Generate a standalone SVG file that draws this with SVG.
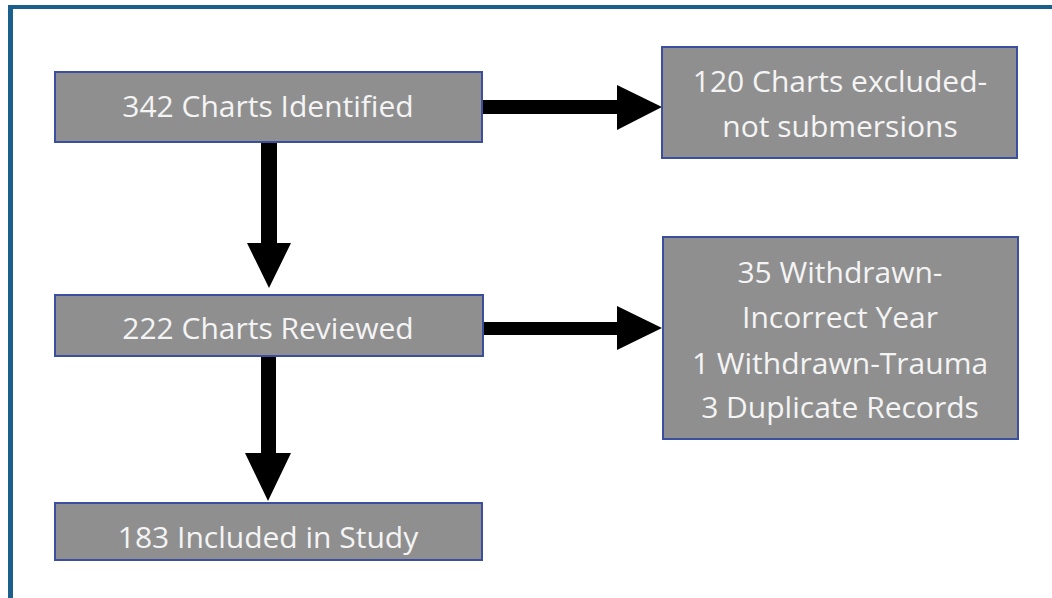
<svg xmlns="http://www.w3.org/2000/svg" width="1052" height="598" viewBox="0 0 1052 598">
<style>
.box{fill:#8f8f8f;stroke:#3b4f9e;stroke-width:2}
.t{font-family:"Open Sans","Noto Sans",sans-serif;font-size:30px;fill:#f4f4f4;text-anchor:middle}
.arr{fill:#000}
</style>
<rect x="0" y="0" width="1052" height="598" fill="#ffffff"/>
<g id="frame">
<rect x="8" y="5" width="1044" height="4" fill="#1b5f8c"/>
<rect x="8" y="5" width="5" height="593" fill="#1b5f8c"/>
</g>
<g id="connectors">
<path class="arr" d="M482 100 H617 V85 L662 107 L617 130 V114 H482 Z"/>
<path class="arr" d="M483 322 H617 V306 L662 328 L617 350 V335 H483 Z"/>
<path class="arr" d="M261 143 V243 H247 L269 288 L291 243 H277 V143 Z"/>
<path class="arr" d="M261 357 V453 H245 L268 501 L291 453 H276 V357 Z"/>
</g>
<g id="n1">
<rect class="box" x="55" y="72" width="427" height="70"/>
<text class="t" x="268" y="117">342 Charts Identified</text>
</g>
<g id="n2">
<rect class="box" x="662" y="47" width="355" height="111"/>
<text class="t" x="840" y="92">120 Charts excluded-</text>
<text class="t" x="840" y="137">not submersions</text>
</g>
<g id="n3">
<rect class="box" x="55" y="295" width="428" height="61"/>
<text class="t" x="268" y="339">222 Charts Reviewed</text>
</g>
<g id="n4">
<rect class="box" x="663" y="237" width="355" height="202"/>
<text class="t" x="840" y="283">35 Withdrawn-</text>
<text class="t" x="840" y="328">Incorrect Year</text>
<text class="t" x="840" y="374">1 Withdrawn-Trauma</text>
<text class="t" x="840" y="418">3 Duplicate Records</text>
</g>
<g id="n5">
<rect class="box" x="55" y="503" width="427" height="57"/>
<text class="t" x="268" y="548">183 Included in Study</text>
</g>
</svg>
